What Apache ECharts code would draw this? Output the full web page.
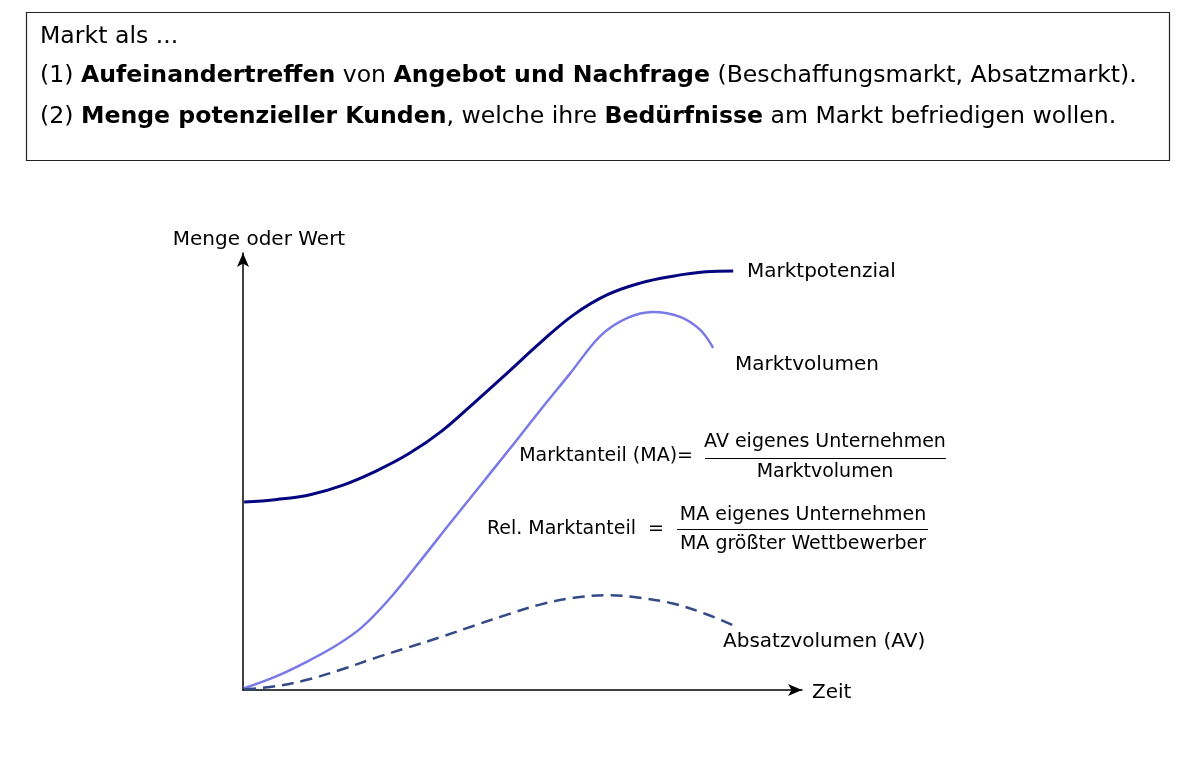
<!DOCTYPE html>
<html>
<head>
<meta charset="utf-8">
<script src="https://cdn.jsdelivr.net/npm/echarts@6/dist/echarts.min.js"></script>
<style>
html,body{margin:0;padding:0;background:#fff;}
#c{width:1196px;height:758px;}
</style>
</head>
<body>
<div id="c"></div>
<script>
// Data (conceptual curves; x = Zeit 0..100, y = Menge oder Wert 0..100)
var marktpotenzial = [[0.2,43.0],[6.1,43.6],[12.0,44.7],[17.9,46.9],[23.8,50.1],[29.7,54.1],[35.6,59.3],[41.5,65.9],[47.4,72.7],[53.3,79.6],[59.2,85.9],[65.1,90.4],[71.0,93.1],[76.9,94.7],[82.8,95.7],[87.7,95.9]];
var marktvolumen = [[0.2,0.4],[5.7,3.0],[11.3,6.4],[16.8,10.3],[21.3,14.4],[26.3,21.0],[31.7,29.5],[37.0,38.1],[42.4,46.7],[47.8,55.3],[53.1,63.9],[58.5,72.4],[63.9,81.0],[68.7,85.1],[73.3,86.5],[78.2,85.4],[81.8,82.4],[84.1,78.3]];
var absatzvolumen = [[0.2,0.1],[6.1,0.9],[12.0,2.5],[17.9,4.8],[23.8,7.4],[29.7,9.8],[35.6,12.2],[41.5,14.8],[47.4,17.3],[53.3,19.6],[59.2,21.1],[65.1,21.7],[71.0,21.1],[76.9,19.8],[82.8,17.4],[88.4,14.4]];
var seriesNames = ['Marktpotenzial','Marktvolumen','Absatzvolumen (AV)'];
var axisNames = ['Zeit','Menge oder Wert'];

var FONT = '"DejaVu Sans", sans-serif';
var chart = echarts.init(document.getElementById('c'));

function txt(x, y, text, size, align) {
  return {type:'text', z:10, style:{x:x, y:y, text:text, font:(size||20)+'px '+FONT, fill:'#000', textAlign:align||'left', textVerticalAlign:'middle'}};
}

var TOP = 23.6;
var bold = {fontWeight:'bold', fontSize:TOP, fontFamily:FONT, fill:'#000'};
var norm = {fontSize:TOP, fontFamily:FONT, fill:'#000'};

chart.setOption({
  animation:false,
  grid:{left:243, right:394, top:253, bottom:68},
  xAxis:{type:'value', min:0, max:100,
    axisLine:{show:true, lineStyle:{color:'#000', width:1.5}, symbol:['none','arrow'], symbolSize:[9,14], symbolOffset:[0,0]},
    axisTick:{show:false}, axisLabel:{show:false}, splitLine:{show:false}},
  yAxis:{type:'value', min:0, max:100,
    axisLine:{show:true, lineStyle:{color:'#000', width:1.5}, symbol:['none','arrow'], symbolSize:[9,14], symbolOffset:[0,0]},
    axisTick:{show:false}, axisLabel:{show:false}, splitLine:{show:false}},
  series:[
    {name:seriesNames[0], type:'line', data:marktpotenzial, smooth:0.4, showSymbol:false, symbol:'none',
      lineStyle:{color:'#05057f', width:3}},
    {name:seriesNames[1], type:'line', data:marktvolumen, smooth:0.35, showSymbol:false, symbol:'none',
      lineStyle:{color:'#7a7ae6', width:2.5}},
    {name:seriesNames[2], type:'line', data:absatzvolumen, smooth:0.35, showSymbol:false, symbol:'none',
      lineStyle:{color:'#344a86', width:2.5, type:[12,7]}}
  ],
  graphic:[
    {type:'rect', shape:{x:26.5, y:12.5, width:1143, height:148}, style:{fill:'#fff', stroke:'#222', lineWidth:1.2}, z:5},
    {type:'text', z:10, style:{x:40, y:37, textVerticalAlign:'middle', text:'Markt als ...', font:TOP+'px '+FONT, fill:'#000'}},
    {type:'text', z:10, style:{x:40, y:76, textVerticalAlign:'middle',
      text:'{n|(1) }{b|Aufeinandertreffen}{n| von }{b|Angebot und Nachfrage}{n| (Beschaffungsmarkt, Absatzmarkt).}',
      rich:{n:norm, b:bold}}},
    {type:'text', z:10, style:{x:40, y:117, textVerticalAlign:'middle',
      text:'{n|(2) }{b|Menge potenzieller Kunden}{n|, welche ihre }{b|Bedürfnisse}{n| am Markt befriedigen wollen.}',
      rich:{n:norm, b:bold}}},
    txt(259, 240, axisNames[1], 20, 'center'),
    txt(812, 693, axisNames[0], 20, 'left'),
    txt(747, 272, seriesNames[0], 20, 'left'),
    txt(735, 365, seriesNames[1], 20, 'left'),
    txt(723, 642, seriesNames[2], 20, 'left'),
    txt(693, 456, 'Marktanteil (MA)=', 19, 'right'),
    txt(825, 442, 'AV eigenes Unternehmen', 19, 'center'),
    {type:'line', shape:{x1:705, y1:458.5, x2:946, y2:458.5}, style:{stroke:'#000', lineWidth:1}, z:10},
    txt(825, 472, 'Marktvolumen', 19, 'center'),
    txt(664, 529, 'Rel. Marktanteil  =', 19, 'right'),
    txt(803, 515, 'MA eigenes Unternehmen', 19, 'center'),
    {type:'line', shape:{x1:677, y1:529.5, x2:928, y2:529.5}, style:{stroke:'#000', lineWidth:1}, z:10},
    txt(803, 544, 'MA größter Wettbewerber', 19, 'center')
  ]
});
</script>
</body>
</html>
